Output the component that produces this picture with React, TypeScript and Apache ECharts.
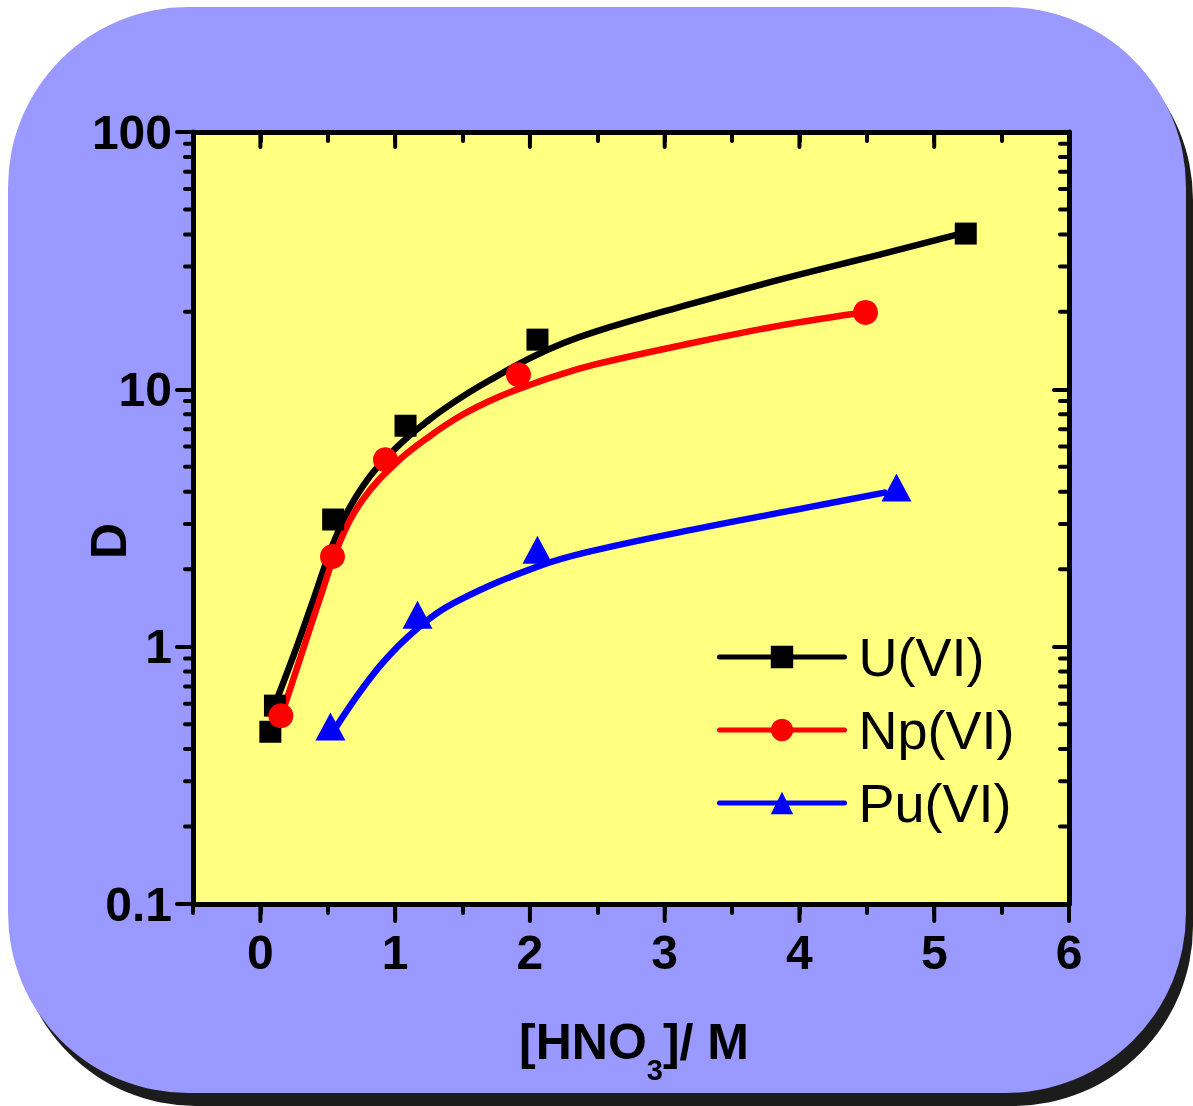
import React, { useEffect, useRef } from 'react';
import * as echarts from 'echarts';

const X_MIN = -0.5;
const X_MAX = 6;
const Y_MIN = 0.1;
const Y_MAX = 100;

// measured points [HNO3 (M), D]
const uData = [[0.074, 0.467], [0.108, 0.59], [0.54, 3.12], [1.077, 7.22], [2.056, 15.6], [5.234, 40.3]];
const npData = [[0.152, 0.539], [0.535, 2.24], [0.928, 5.33], [1.915, 11.4], [4.49, 19.9]];
const puData = [[0.52, 0.489], [1.166, 1.33], [2.056, 2.38], [4.72, 4.15]];

// fitted curves
const uFit = [[0.12, 0.62], [0.267, 0.99], [0.393, 1.52], [0.562, 2.68], [0.76, 4.2], [1.007, 5.92], [1.255, 7.63], [1.502, 9.39], [1.749, 11.2], [1.997, 13.2], [2.245, 15.1], [2.492, 16.8], [3.11, 20.87], [3.853, 26.69], [4.595, 33.4], [5.17, 39.9]];
const npFit = [[0.163, 0.554], [0.304, 0.93], [0.438, 1.52], [0.586, 2.53], [0.76, 3.73], [1.007, 5.18], [1.255, 6.57], [1.502, 7.98], [1.749, 9.26], [1.997, 10.4], [2.245, 11.51], [2.492, 12.53], [3.11, 14.78], [3.853, 17.69], [4.41, 19.68]];
const puFit = [[0.564, 0.489], [0.883, 0.836], [1.18, 1.196], [1.48, 1.52], [2.056, 2.046], [2.44, 2.34], [3.207, 2.85], [4.053, 3.47], [4.632, 3.97]];

const seriesNames = ['U(VI)', 'Np(VI)', 'Pu(VI)'];
const xMajorTicks = [0, 1, 2, 3, 4, 5, 6];
const yMinorTicks = [0.2, 0.3, 0.4, 0.5, 0.6, 0.7, 0.8, 0.9, 2, 3, 4, 5, 6, 7, 8, 9, 20, 30, 40, 50, 60, 70, 80, 90];

const FONT = '"Liberation Sans", Arial, sans-serif';

export default function App() {
  const ref = useRef<HTMLDivElement>(null);
  useEffect(() => {
    if (!ref.current) return;
    const chart = echarts.init(ref.current, null, { renderer: 'svg' });
    const tickStyle = { stroke: '#000', lineWidth: 4, lineCap: 'round' };
    const axisCommon = {
      axisLine: { show: true, onZero: false, lineStyle: { color: '#000', width: 5 } },
      splitLine: { show: false },
    };
    const lineSeries = (name: string, data: number[][], color: string, symbol: string) => ({
      name, type: 'line', data, smooth: 0.4, showSymbol: false, symbol, symbolSize: 22,
      lineStyle: { color, width: 6.5, opacity: 1, cap: 'round' }, itemStyle: { color, opacity: 1 }, z: 3,
      emphasis: { disabled: true },
    });
    const option: any = {
      animation: false,
      backgroundColor: 'transparent',
      graphic: {
        elements: [
          { type: 'rect', z: -20, shape: { x: 16, y: 20, width: 1177, height: 1086, r: 180 }, style: { fill: '#1c1c1c' } },
          { type: 'rect', z: -10, shape: { x: 8, y: 7, width: 1178, height: 1086, r: 180 }, style: { fill: '#9999FF' } },
          {
            type: 'text', z: 10, x: 109, y: 541, rotation: Math.PI / 2,
            style: { text: 'D', fontSize: 50, fontWeight: 'bold', fontFamily: FONT, fill: '#000', align: 'center', verticalAlign: 'middle' },
          },
          {
            type: 'text', z: 10, x: 634, y: 1017,
            style: {
              text: '{a|[HNO}{s|3}{a|]/ M}',
              align: 'center', verticalAlign: 'top', fill: '#000',
              rich: {
                a: { fontSize: 50, fontWeight: 'bold', fontFamily: FONT, lineHeight: 50, verticalAlign: 'top', fill: '#000' },
                s: { fontSize: 29, fontWeight: 'bold', fontFamily: FONT, lineHeight: 29, verticalAlign: 'top', padding: [38, 0, 0, 0], fill: '#000' },
              },
            },
          },
        ],
      },
      grid: { left: 193, top: 132, width: 876, height: 772, show: true, backgroundColor: '#FFFF80', borderWidth: 0 },
      legend: {
        data: seriesNames,
        left: 717, top: 629, orient: 'vertical', itemWidth: 125, itemHeight: 28, itemGap: 17, padding: 0,
        selectedMode: false,
        lineStyle: { width: 5 },
        textStyle: { fontSize: 54, fontFamily: FONT, color: '#000', lineHeight: 56, padding: [0, 0, 0, 9] },
      },
      xAxis: [
        {
          ...axisCommon, type: 'value', position: 'bottom', min: X_MIN, max: X_MAX, interval: 0.5,
          axisTick: { show: true, inside: false, length: 9, lineStyle: { color: '#000', width: 4, cap: 'round' } },
          axisLabel: {
            show: true, margin: 24, fontSize: 48, fontWeight: 'bold', fontFamily: FONT, color: '#000',
            formatter: (v: number) => (Math.abs(v - Math.round(v)) < 1e-9 ? String(Math.round(v)) : ''),
          },
        },
        {
          ...axisCommon, type: 'value', position: 'top', min: X_MIN, max: X_MAX, interval: 0.5,
          axisTick: { show: true, inside: true, length: 9, lineStyle: { color: '#000', width: 4, cap: 'round' } },
          axisLabel: { show: false },
        },
      ],
      yAxis: [
        {
          ...axisCommon, type: 'log', logBase: 10, position: 'left', min: Y_MIN, max: Y_MAX,
          axisTick: { show: true, inside: false, length: 16, lineStyle: { color: '#000', width: 4, cap: 'round' } },
          axisLabel: {
            show: true, margin: 21, fontSize: 48, fontWeight: 'bold', fontFamily: FONT, color: '#000',
            formatter: (v: number) => (v >= 1 ? String(Math.round(v)) : String(Number(v.toPrecision(3)))),
          },
        },
        {
          ...axisCommon, type: 'log', logBase: 10, position: 'right', min: Y_MIN, max: Y_MAX,
          axisTick: { show: true, inside: true, length: 15, lineStyle: { color: '#000', width: 4, cap: 'round' } },
          axisLabel: { show: false },
        },
      ],
      series: [
        lineSeries('U(VI)', uFit, '#000000', 'rect'),
        lineSeries('Np(VI)', npFit, '#FF0000', 'circle'),
        lineSeries('Pu(VI)', puFit, '#0000FF', 'triangle'),
        { name: 'U points', type: 'scatter', data: uData, symbol: 'rect', symbolSize: 22, itemStyle: { color: '#000', opacity: 1 }, z: 4 },
        { name: 'Np points', type: 'scatter', data: npData, symbol: 'circle', symbolSize: 25, itemStyle: { color: '#FF0000', opacity: 1 }, z: 4 },
        { name: 'Pu points', type: 'scatter', data: puData, symbol: 'triangle', symbolSize: [30, 28], itemStyle: { color: '#0000FF', opacity: 1 }, z: 4 },
        {
          name: 'yMinor', type: 'custom', clip: false, z: 5, silent: true,
          data: yMinorTicks.map((v) => [X_MIN, v]),
          renderItem: (params: any, api: any) => {
            const v = api.value(1);
            const l = api.coord([X_MIN, v]);
            const r = api.coord([X_MAX, v]);
            return {
              type: 'group',
              children: [
                { type: 'line', shape: { x1: l[0] - 8, y1: l[1], x2: l[0], y2: l[1] }, style: tickStyle },
                { type: 'line', shape: { x1: r[0] - 9, y1: r[1], x2: r[0], y2: r[1] }, style: tickStyle },
              ],
            };
          },
        },
        {
          name: 'xMajor', type: 'custom', clip: false, z: 5, silent: true,
          data: xMajorTicks.map((v) => [v, Y_MIN]),
          renderItem: (params: any, api: any) => {
            const v = api.value(0);
            const b = api.coord([v, Y_MIN]);
            const t = api.coord([v, Y_MAX]);
            return {
              type: 'group',
              children: [
                { type: 'line', shape: { x1: b[0], y1: b[1], x2: b[0], y2: b[1] + 17 }, style: tickStyle },
                { type: 'line', shape: { x1: t[0], y1: t[1], x2: t[0], y2: t[1] + 15 }, style: tickStyle },
              ],
            };
          },
        },
      ],
    };
    chart.setOption(option);
    return () => chart.dispose();
  }, []);
  return <div ref={ref} style={{ position: 'fixed', left: 0, top: 0, width: 1193, height: 1106 }} />;
}
